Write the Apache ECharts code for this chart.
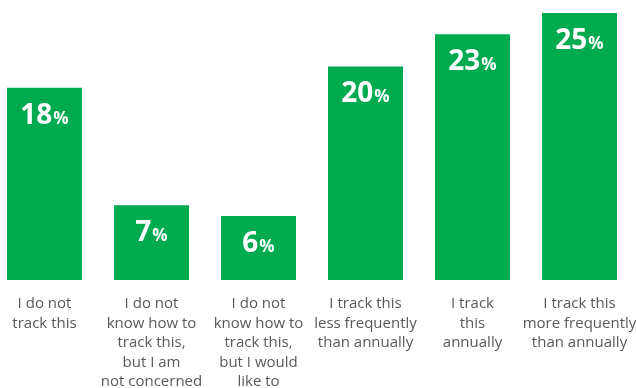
<!DOCTYPE html>
<html>
<head>
<meta charset="utf-8">
<script src="https://cdn.jsdelivr.net/npm/echarts@6/dist/echarts.min.js"></script>
<style>
  html, body { margin: 0; padding: 0; background: #ffffff; overflow: hidden; }
  #wrap { width: 636px; height: 388px; overflow: hidden; position: relative; }
  /* the plot is a little wider than the window so the outer columns sit flush */
  #chart { width: 645px; height: 388px; position: absolute; left: -9px; top: 0; }
</style>
</head>
<body>
<div id="wrap"><div id="chart"></div></div>
<script>
// Survey answers: how often respondents track this
const categories = [
  'I do not\ntrack this',
  'I do not\nknow how to\ntrack this,\nbut I am\nnot concerned',
  'I do not\nknow how to\ntrack this,\nbut I would\nlike to',
  'I track this\nless frequently\nthan annually',
  'I track\nthis\nannually',
  'I track this\nmore frequently\nthan annually'
];
const shares = [18, 7, 6, 20, 23, 25];

const GREEN = '#00AA4F';
const chart = echarts.init(document.getElementById('chart'));
chart.setOption({
  animation: false,
  grid: { left: 0, right: 3, top: 13, bottom: 108, containLabel: false, outerBoundsMode: 'none' },
  xAxis: {
    type: 'category',
    data: categories,
    axisLine: { show: false },
    axisTick: { show: false },
    axisLabel: {
      interval: 0,
      margin: 14,
      color: '#595959',
      fontFamily: 'Open Sans',
      fontSize: 15,
      lineHeight: 19.5,
      verticalAlign: 'top'
    }
  },
  yAxis: {
    type: 'value',
    min: 0,
    max: 25,
    show: false,
    splitLine: { show: false }
  },
  series: [{
    type: 'bar',
    data: shares,
    barWidth: 75,
    itemStyle: { color: GREEN },
    label: {
      show: true,
      position: 'insideTop',
      distance: 14,
      formatter: p => '{n|' + p.value + '}{p|%}',
      rich: {
        n: { color: '#ffffff', fontFamily: 'Open Sans', fontWeight: 'bold', fontSize: 28 },
        p: { color: '#ffffff', fontFamily: 'Open Sans', fontWeight: 'bold', fontSize: 17, padding: [6, 0, 0, 1] }
      }
    }
  }]
});
</script>
</body>
</html>
